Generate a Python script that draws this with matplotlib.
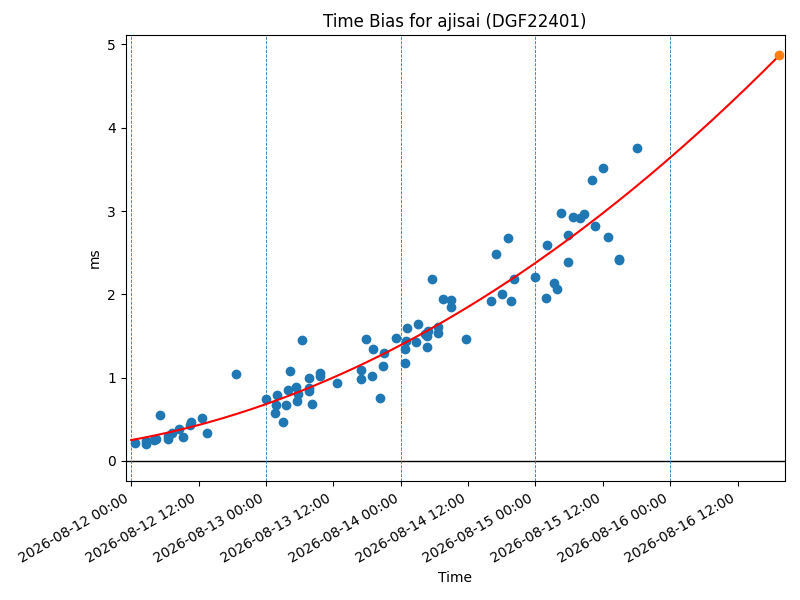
import numpy as np
import matplotlib
matplotlib.use("Agg")
import matplotlib.pyplot as plt
import matplotlib.dates as mdates
from datetime import datetime, timedelta

base_time = datetime(2026, 8, 12, 0, 0)
hours_since_start = [
    0.66, 2.62, 2.62, 4.40, 4.04, 5.11, 6.48, 6.60, 7.20, 8.55,
    9.26, 10.58, 10.50, 12.65, 13.54, 18.65, 23.99, 26.00, 25.72, 25.59,
    27.07, 27.55, 28.27, 27.96, 29.28, 29.64, 29.57, 30.40, 31.65, 31.65,
    31.70, 32.24, 33.61, 33.70, 36.69, 40.91, 40.91, 41.86, 42.92, 43.10,
    44.35, 44.88, 45.06, 47.15, 48.80, 48.80, 48.98, 49.16, 50.71, 51.12,
    52.26, 52.72, 52.61, 52.79, 53.61, 54.68, 54.68, 55.57, 56.89, 56.89,
    59.61, 64.07, 66.08, 67.57, 64.96, 67.15, 68.16, 71.96, 73.92, 74.10,
    75.34, 75.88, 77.83, 77.83, 76.59, 78.62, 79.97, 80.68, 82.64, 84.96,
    86.81, 86.95, 82.11, 84.07, 90.12,
]
bias_ms = [
    0.218, 0.238, 0.206, 0.258, 0.246, 0.546, 0.258, 0.298, 0.339, 0.378,
    0.290, 0.470, 0.426, 0.519, 0.339, 1.038, 0.738, 0.786, 0.666, 0.570,
    0.470, 0.666, 1.074, 0.846, 0.890, 0.798, 0.718, 1.455, 0.990, 0.879,
    0.838, 0.687, 1.050, 1.020, 0.939, 1.086, 0.978, 1.459, 1.014, 1.347,
    0.759, 1.134, 1.299, 1.479, 1.179, 1.347, 1.435, 1.591, 1.426, 1.647,
    1.527, 1.363, 1.498, 1.558, 2.187, 1.606, 1.531, 1.939, 1.927, 1.851,
    1.467, 1.918, 1.999, 1.915, 2.487, 2.671, 2.187, 2.203, 1.951, 2.595,
    2.139, 2.067, 2.391, 2.711, 2.971, 2.932, 2.920, 2.959, 2.824, 2.692,
    2.419, 2.407, 3.367, 3.520, 3.760,
]
# quadratic fit: bias = c2*d^2 + c1*d + c0 (d in days)
fit_coeffs = [0.1387, 0.293, 0.25]
fit_start_hours = 0.0
predict_hours = 115.42
midnight_days = [12, 13, 14, 15, 16]

times = [base_time + timedelta(hours=h) for h in hours_since_start]

fig, ax = plt.subplots(figsize=(8, 6), dpi=100)
fig.subplots_adjust(left=0.157, right=0.981, top=0.9417, bottom=0.198)

ax.axhline(0, color="black", lw=1)
for d in midnight_days:
    ax.axvline(datetime(2026, 8, d), color="C0", ls="--", lw=0.6)

ax.plot(times, bias_ms, "o", color="C0")

fit_h = np.linspace(fit_start_hours, predict_hours, 200)
fit_t = [base_time + timedelta(hours=float(h)) for h in fit_h]
ax.plot(fit_t, np.polyval(fit_coeffs, fit_h / 24.0), "r-")
ax.plot([base_time + timedelta(hours=predict_hours)],
        [np.polyval(fit_coeffs, predict_hours / 24.0)], "o", color="C1")

ax.set_xlim(base_time - timedelta(hours=1.0), base_time + timedelta(hours=116.4))
ax.set_ylim(-0.2435, 5.113)
ax.xaxis.set_major_locator(mdates.HourLocator(byhour=[0, 12]))
ax.xaxis.set_major_formatter(mdates.DateFormatter("%Y-%m-%d %H:%M"))
for lbl in ax.get_xticklabels():
    lbl.set_rotation(30)
    lbl.set_ha("right")

ax.set_title("Time Bias for ajisai (DGF22401)")
ax.set_xlabel("Time")
ax.set_ylabel("ms")

fig.savefig("out.png", dpi=100)
